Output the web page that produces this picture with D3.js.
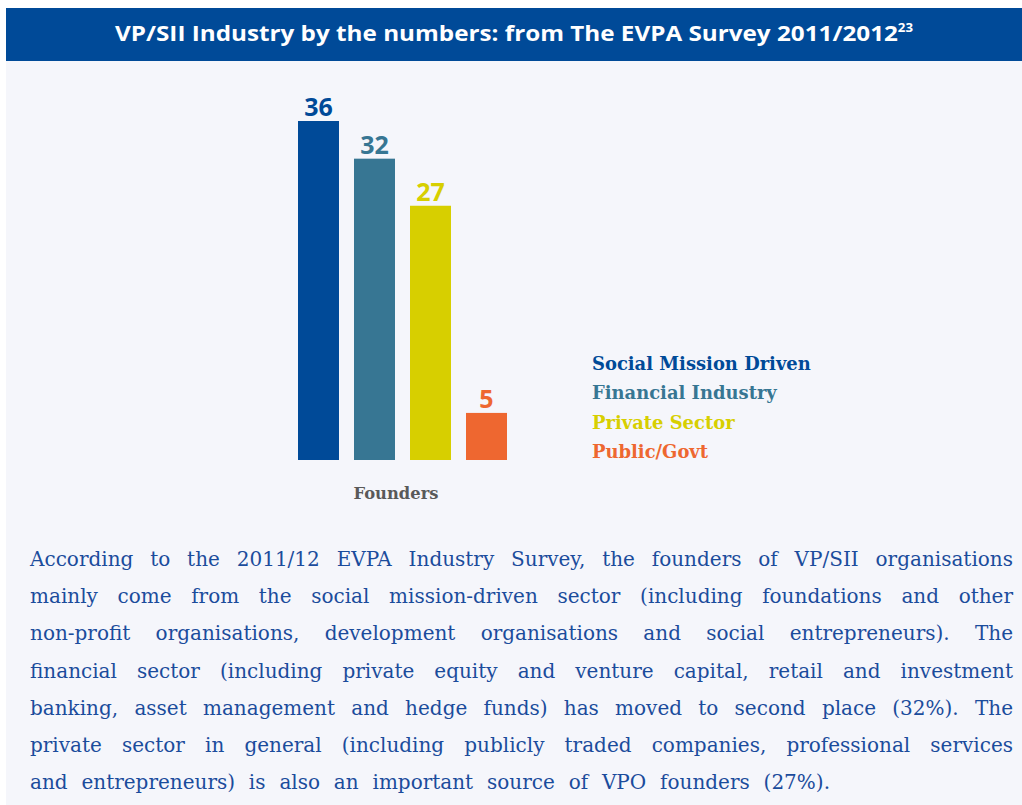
<!DOCTYPE html>
<html>
<head>
<meta charset="utf-8">
<script src="https://cdn.jsdelivr.net/npm/d3@7"></script>
<style>
  html, body { margin: 0; padding: 0; background: #ffffff; }
  svg { display: block; }
</style>
</head>
<body>
<script>
const w = 1022;
const h = 805;

// data
const categories = ["Social Mission Driven", "Financial Industry", "Private Sector", "Public/Govt"];
const values = [36, 32, 27, 5];
const colors = ["#004a98", "#377693", "#d7cf00", "#ee6730"];
const groupLabel = "Founders";

const titleText = "VP/SII Industry by the numbers: from The EVPA Survey 2011/2012";
const titleNote = "23";

const paragraph = [
  "According to the 2011/12 EVPA Industry Survey, the founders of VP/SII organisations",
  "mainly come from the social mission-driven sector (including foundations and other",
  "non-profit organisations, development organisations and social entrepreneurs). The",
  "financial sector (including private equity and venture capital, retail and investment",
  "banking, asset management and hedge funds) has moved to second place (32%). The",
  "private sector in general (including publicly traded companies, professional services",
  "and entrepreneurs) is also an important source of VPO founders (27%)."
];

const serif = "'DejaVu Serif', serif";

// resize a text so it takes the given width
function fitWidth(sel, target) {
  const fs = parseFloat(sel.attr("font-size"));
  const wd = sel.node().getComputedTextLength();
  sel.attr("font-size", (fs * target / wd) + "px");
}

const svg = d3.select("body").append("svg").attr("width", w).attr("height", h);

// background panel
svg.append("rect").attr("x", 6).attr("y", 8).attr("width", w - 6).attr("height", h - 8)
  .attr("fill", "#f5f6fb");

// header band
svg.append("rect").attr("x", 6).attr("y", 8).attr("width", w - 6).attr("height", 53)
  .attr("fill", "#004a98");

const title = svg.append("text")
  .attr("x", 115).attr("y", 41)
  .attr("font-family", "'Open Sans', sans-serif")
  .attr("font-weight", 700)
  .attr("font-size", "22px")
  .attr("fill", "#ffffff")
  .attr("textLength", 798)
  .attr("lengthAdjust", "spacingAndGlyphs");
title.append("tspan").text(titleText);
title.append("tspan").attr("font-size", "12px").attr("dy", -9).text(titleNote);

// scales
const xScale = d3.scaleBand()
  .domain(categories)
  .range([298, 507])
  .paddingInner(0.268)
  .paddingOuter(0);

const yScale = d3.scaleLinear()
  .domain([0, 36])
  .range([460, 121]);

// bars
svg.selectAll("rect.bar")
  .data(values)
  .enter()
  .append("rect")
  .attr("class", "bar")
  .attr("x", (d, i) => xScale(categories[i]))
  .attr("y", d => yScale(d))
  .attr("width", xScale.bandwidth())
  .attr("height", d => yScale(0) - yScale(d))
  .attr("fill", (d, i) => colors[i]);

// value labels
svg.selectAll("text.val")
  .data(values)
  .enter()
  .append("text")
  .attr("class", "val")
  .attr("x", (d, i) => xScale(categories[i]) + xScale.bandwidth() / 2)
  .attr("y", d => yScale(d) - 5)
  .attr("text-anchor", "middle")
  .attr("font-family", "'Open Sans', sans-serif")
  .attr("font-weight", 700)
  .attr("font-size", "25px")
  .attr("fill", (d, i) => colors[i])
  .text(d => d);

// group label
const founders = svg.append("text")
  .attr("x", 396).attr("y", 499)
  .attr("text-anchor", "middle")
  .attr("font-family", serif)
  .attr("font-weight", 700)
  .attr("font-size", "18px")
  .attr("fill", "#595959")
  .text(groupLabel);
fitWidth(founders, 85);

// legend
const legend = svg.selectAll("text.leg")
  .data(categories)
  .enter()
  .append("text")
  .attr("class", "leg")
  .attr("x", 592)
  .attr("y", (d, i) => 370 + i * 29.3)
  .attr("font-family", serif)
  .attr("font-weight", 700)
  .attr("font-size", "18px")
  .attr("fill", (d, i) => colors[i])
  .text(d => d);
const legFirst = legend.filter((d, i) => i === 0);
fitWidth(legFirst, 219);
legend.attr("font-size", legFirst.attr("font-size"));

// paragraph, justified word by word
// glyphs are a bit narrowed so the last (unjustified) line ends near x = 830
const left = 30, right = 1013;
const para = svg.append("g")
  .attr("font-family", serif)
  .attr("font-size", "20px")
  .attr("fill", "#1b4c9c");

const probe = para.append("text").text(paragraph[paragraph.length - 1]);
const sx = Math.min(1, 800 / probe.node().getComputedTextLength());
probe.remove();
para.attr("transform", "scale(" + sx + ",1)");

paragraph.forEach(function (line, li) {
  const y = 566 + li * 37.2;
  const words = line.split(" ");
  const nodes = words.map(wd => para.append("text").attr("y", y).text(wd));
  const widths = nodes.map(n => n.node().getComputedTextLength() * sx);
  const total = d3.sum(widths);
  const last = li === paragraph.length - 1;
  const gap = last ? (800 - total) / (words.length - 1) : (right - left - total) / (words.length - 1);
  let x = left;
  nodes.forEach(function (n, i) {
    n.attr("x", x / sx);
    x += widths[i] + gap;
  });
});
</script>
</body>
</html>
